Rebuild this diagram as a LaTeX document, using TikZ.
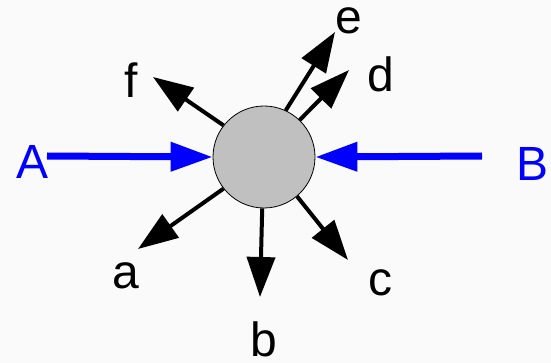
\documentclass[tikz,border=0pt]{standalone}
\usepackage{fontspec}
\setmainfont{Liberation Sans}
\usetikzlibrary{arrows.meta}
\definecolor{ballgray}{RGB}{192,192,192}
\definecolor{bgwhite}{RGB}{250,250,250}
\tikzset{
  ball/.style={circle,draw=black,line width=0.8pt,fill=ballgray,inner sep=0pt,minimum size=102pt},
  lbl/.style={inner sep=0pt,font=\fontsize{48}{56}\selectfont},
  bluelbl/.style={lbl,text=blue},
  blk/.style={draw=black,line width=4pt,-{Triangle[length=40pt,width=28pt]}},
  blu/.style={draw=blue,line width=7pt,-{Triangle[length=42pt,width=28pt]}}
}
\begin{document}
\begin{tikzpicture}[x=1pt,y=-1pt]
\fill[bgwhite] (0,0) rectangle (551,363);
\useasboundingbox (0,0) rectangle (551,363);
\node[ball] (c0) at (264,157) {};
% labels
\node[bluelbl] (A) at (33,162) {A};
\node[bluelbl] (B) at (532,164) {B};
\node[lbl] (la) at (126,276) {a};
\node[lbl] (lb) at (264,339) {b};
\node[lbl] (lc) at (380,283) {c};
\node[lbl] (ld) at (381,74) {d};
\node[lbl] (le) at (349,21) {e};
\node[lbl] (lf) at (131,80) {f};
% arrow ends
\coordinate (sA) at (47,156);
\coordinate (sB) at (482,156);
\coordinate (ta) at (138,249);
\coordinate (tb) at (260,297);
\coordinate (tc) at (348,260);
\coordinate (td) at (349,70);
\coordinate (te) at (335,32);
\coordinate (tf) at (153,77);
% arrows
\draw[blu] (sA) -- (c0.west);
\draw[blu] (sB) -- (c0.east);
\draw[blk] (c0.218) -- (ta);
\draw[blk] (c0.268) -- (tb);
\draw[blk] (c0.310) -- (tc);
\draw[blk] (c0.46) -- (td);
\draw[blk] (c0.65) -- (te);
\draw[blk] (c0.142) -- (tf);
\end{tikzpicture}
\end{document}
